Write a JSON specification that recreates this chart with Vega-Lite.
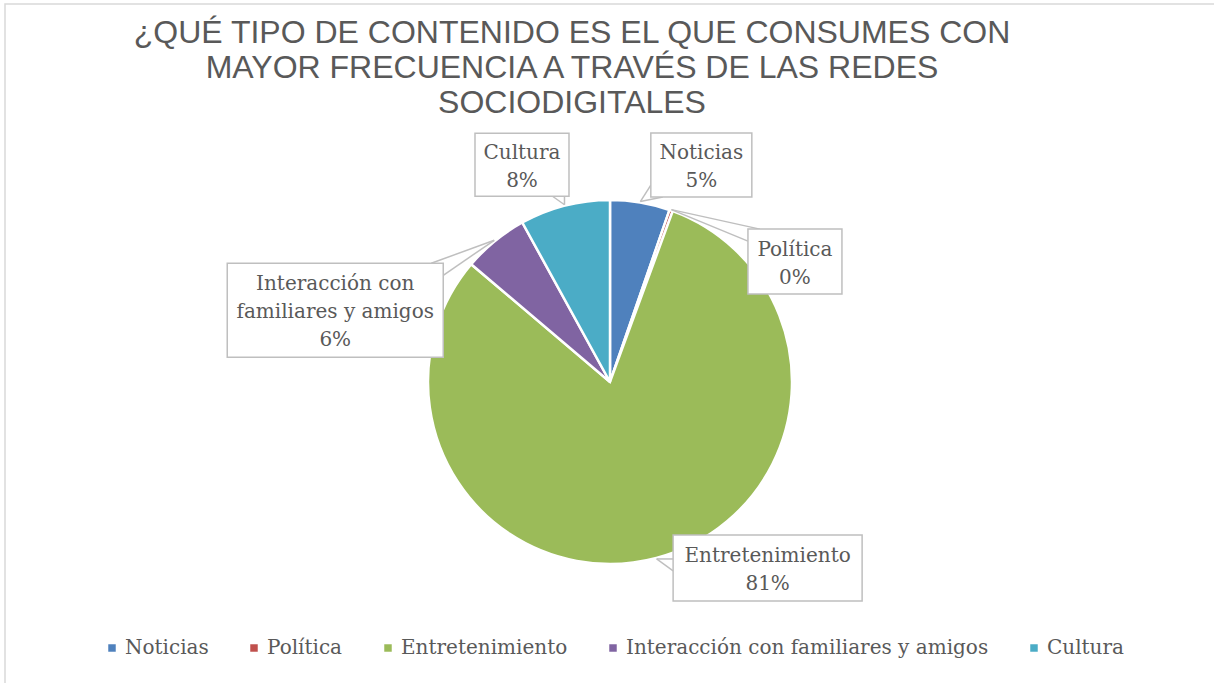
{
  "$schema": "https://vega.github.io/schema/vega-lite/v6.json",
  "width": 1210,
  "height": 756,
  "autosize": {"type": "none"},
  "padding": {"left": 5, "top": 4, "right": -1, "bottom": -77},
  "background": "white",
  "config": {
    "view": {"stroke": "#d9d9d9", "strokeWidth": 1.5},
    "font": "DejaVu Serif"
  },
  "title": {
    "text": ["¿QUÉ TIPO DE CONTENIDO ES EL QUE CONSUMES CON", "MAYOR FRECUENCIA A TRAVÉS DE LAS REDES", "SOCIODIGITALES"],
    "anchor": "middle",
    "frame": "group",
    "orient": "top",
    "offset": -116,
    "dx": -38,
    "font": "Liberation Sans",
    "fontSize": 32,
    "fontWeight": "normal",
    "color": "#595959",
    "lineHeight": 35
  },
  "data": {
    "values": [
      {"categoria": "Noticias", "etiqueta": "Noticias", "valor": 5.3, "orden": 1},
      {"categoria": "Política", "etiqueta": "Política", "valor": 0.3, "orden": 2},
      {"categoria": "Entretenimiento", "etiqueta": "Entretenimiento", "valor": 80.6, "orden": 3},
      {"categoria": "Interacción con familiares y amigos", "etiqueta": "Interacción con\nfamiliares y amigos", "valor": 5.8, "orden": 4},
      {"categoria": "Cultura", "etiqueta": "Cultura", "valor": 8.0, "orden": 5}
    ]
  },
  "transform": [
    {"joinaggregate": [{"op": "sum", "field": "valor", "as": "total"}]},
    {"window": [{"op": "sum", "field": "valor", "as": "acum"}], "sort": [{"field": "orden", "order": "ascending"}], "frame": [null, 0]},
    {"calculate": "2*PI*(datum.acum - datum.valor/2)/datum.total", "as": "ang"},
    {"calculate": "183*sin(datum.ang)", "as": "px"},
    {"calculate": "183*cos(datum.ang)", "as": "py"},
    {"calculate": "datum.px + [61, 123.5, 111, -159, -42.5][datum.orden-1]", "as": "cx"},
    {"calculate": "datum.py + [36.5, -52, -9, -70, 40][datum.orden-1]", "as": "cy"},
    {"calculate": "[101, 94, 189, 216, 94][datum.orden-1]", "as": "bw"},
    {"calculate": "[64, 65, 66, 94, 63][datum.orden-1]", "as": "bh"},
    {"calculate": "datum.cx - datum.bw/2", "as": "x1"},
    {"calculate": "datum.cx + datum.bw/2", "as": "x2"},
    {"calculate": "datum.cy - datum.bh/2", "as": "y1"},
    {"calculate": "datum.cy + datum.bh/2", "as": "y2"},
    {"calculate": "clamp(datum.px, datum.x1, datum.x2)", "as": "ax"},
    {"calculate": "clamp(datum.py, datum.y1, datum.y2)", "as": "ay"},
    {"calculate": "datum.ax + (datum.cx > datum.ax ? 12 : -12)", "as": "bx"},
    {"calculate": "datum.ay + (datum.cy > datum.ay ? 12 : -12)", "as": "by"},
    {"calculate": "datum.etiqueta + '\\n' + format(datum.valor/datum.total, '.0%')", "as": "texto"},
    {"calculate": "datum.cy + (length(split(datum.texto, '\\n')) - 1) * 14 - 2", "as": "ty"}
  ],
  "layer": [
    {
      "mark": {"type": "arc", "outerRadius": 182, "stroke": "white", "strokeWidth": 2.5},
      "encoding": {
        "theta": {"field": "valor", "type": "quantitative", "stack": true},
        "order": {"field": "orden", "type": "quantitative"},
        "color": {
          "field": "categoria",
          "type": "nominal",
          "scale": {
            "domain": ["Noticias", "Política", "Entretenimiento", "Interacción con familiares y amigos", "Cultura"],
            "range": ["#4F81BD", "#C0504D", "#9BBB59", "#8064A2", "#4BACC6"]
          },
          "legend": {
            "orient": "none",
            "legendX": 97,
            "legendY": 634,
            "direction": "horizontal",
            "title": null,
            "symbolType": "square",
            "symbolSize": 56,
            "symbolStrokeWidth": 0,
            "labelFont": "DejaVu Serif",
            "labelFontSize": 20,
            "labelColor": "#595959",
            "labelOffset": 3,
            "columnPadding": 35,
            "padding": 0,
            "labelLimit": 600
          }
        }
      }
    },
    {
      "mark": {"type": "rule", "stroke": "#bfbfbf", "strokeWidth": 1.5},
      "encoding": {
        "x": {"field": "px", "type": "quantitative", "scale": {"domain": [-605, 605], "nice": false, "zero": false}, "axis": null},
        "y": {"field": "py", "type": "quantitative", "scale": {"domain": [-378, 378], "nice": false, "zero": false}, "axis": null},
        "x2": {"field": "bx"},
        "y2": {"field": "ay"}
      }
    },
    {
      "mark": {"type": "rule", "stroke": "#bfbfbf", "strokeWidth": 1.5},
      "encoding": {
        "x": {"field": "px", "type": "quantitative", "scale": {"domain": [-605, 605], "nice": false, "zero": false}, "axis": null},
        "y": {"field": "py", "type": "quantitative", "scale": {"domain": [-378, 378], "nice": false, "zero": false}, "axis": null},
        "x2": {"field": "ax"},
        "y2": {"field": "by"}
      }
    },
    {
      "mark": {"type": "rect", "fill": "white", "stroke": "#bfbfbf", "strokeWidth": 1.5},
      "encoding": {
        "x": {"field": "x1", "type": "quantitative", "scale": {"domain": [-605, 605], "nice": false, "zero": false}, "axis": null},
        "x2": {"field": "x2"},
        "y": {"field": "y1", "type": "quantitative", "scale": {"domain": [-378, 378], "nice": false, "zero": false}, "axis": null},
        "y2": {"field": "y2"}
      }
    },
    {
      "mark": {"type": "text", "font": "DejaVu Serif", "fontSize": 20, "lineHeight": 28, "lineBreak": "\n", "align": "center", "baseline": "middle", "fill": "#595959"},
      "encoding": {
        "x": {"field": "cx", "type": "quantitative", "scale": {"domain": [-605, 605], "nice": false, "zero": false}, "axis": null},
        "y": {"field": "ty", "type": "quantitative", "scale": {"domain": [-378, 378], "nice": false, "zero": false}, "axis": null},
        "text": {"field": "texto", "type": "nominal"}
      }
    }
  ]
}
